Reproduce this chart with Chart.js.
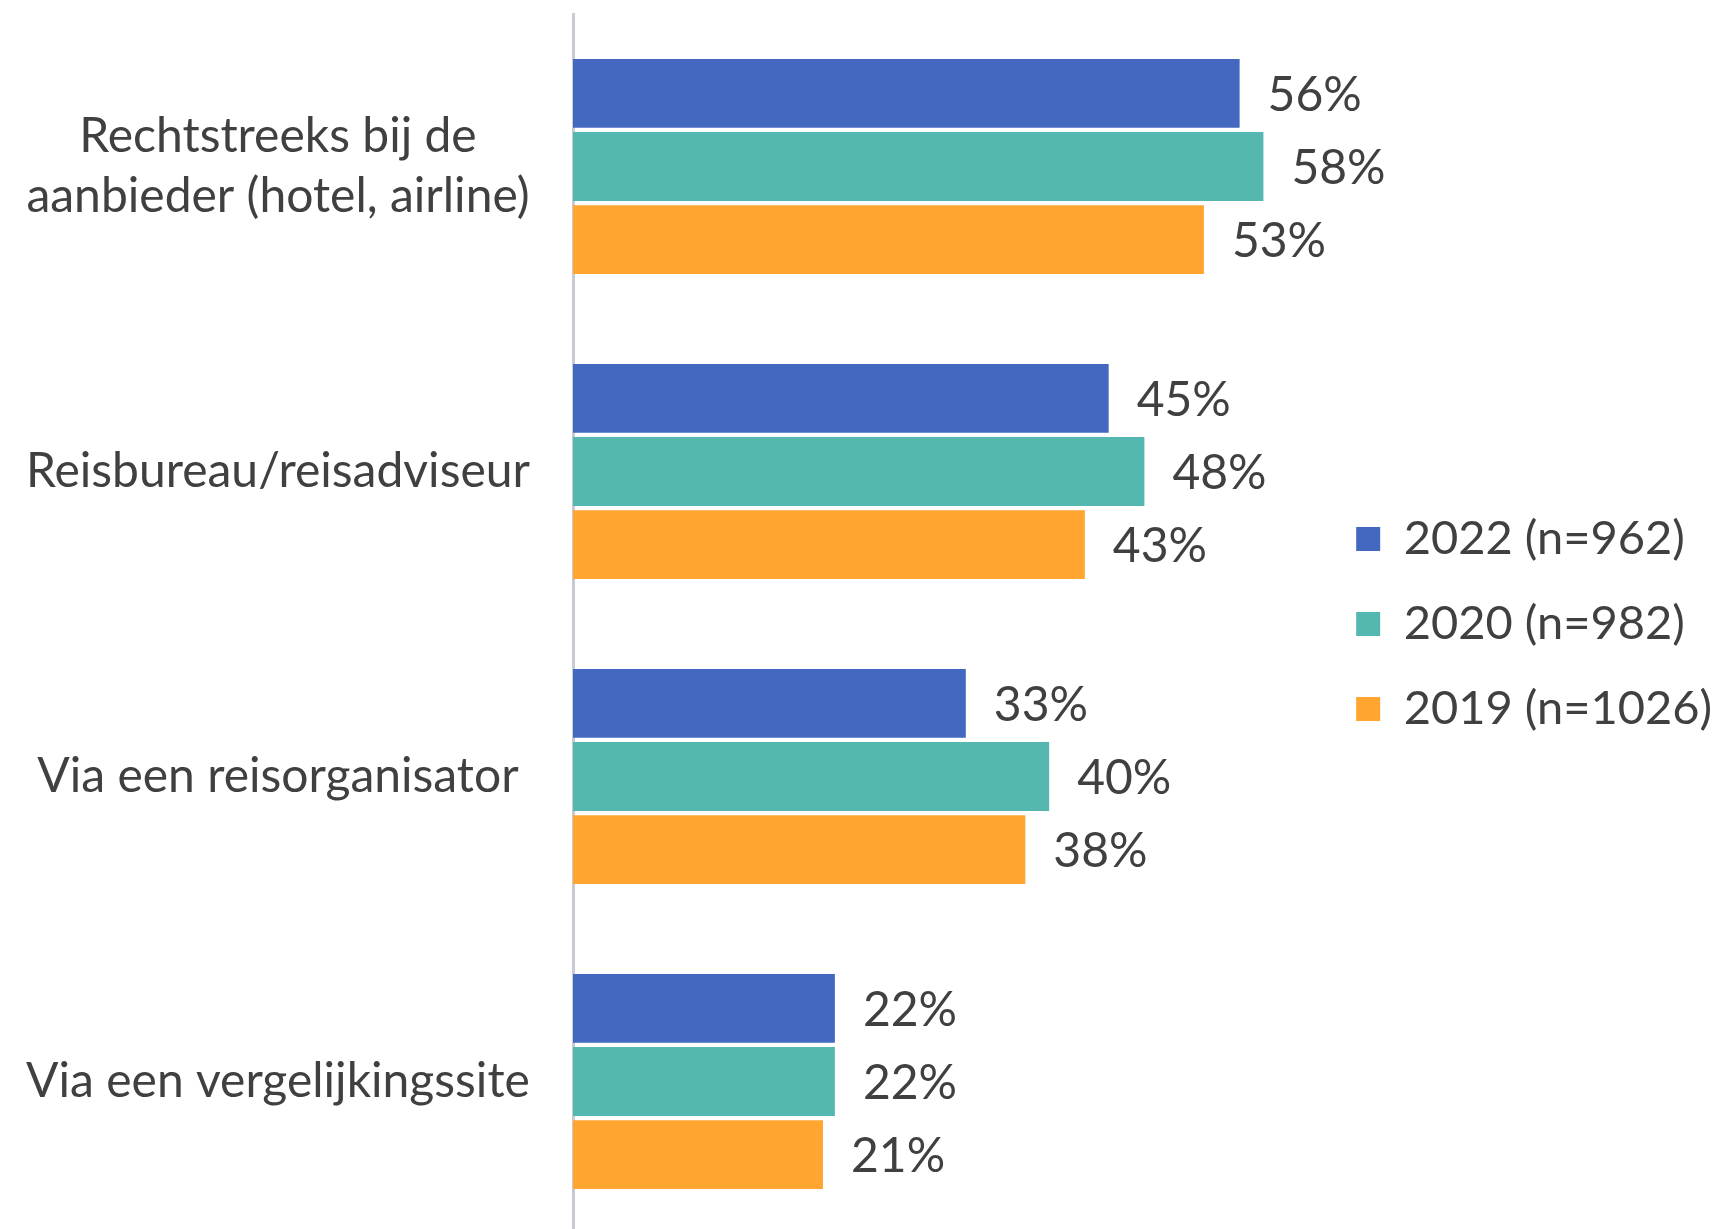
<!DOCTYPE html>
<html>
<head>
<meta charset="utf-8">
<script src="https://cdn.jsdelivr.net/npm/chart.js@4/dist/chart.umd.min.js"></script>
<style>
  html, body { margin: 0; padding: 0; background: #fff; overflow: hidden; }
  #wrap { width: 1722px; height: 1240px; position: relative; }
</style>
</head>
<body>
<div id="wrap"><canvas id="grafiek"></canvas></div>
<script>
const categorieen = [
    ['Rechtstreeks bij de', 'aanbieder (hotel, airline)'],
    'Reisbureau/reisadviseur',
    'Via een reisorganisator',
    'Via een vergelijkingssite'
];
const reeksNamen = ['2022 (n=962)', '2020 (n=982)', '2019 (n=1026)'];
const waarden2022 = [56, 45, 33, 22];
const waarden2020 = [58, 48, 40, 22];
const waarden2019 = [53, 43, 38, 21];
const kleuren = ['#4468C0', '#55B8B0', '#FFA530'];

const tekstKleur = '#404040';
const lettertype = 'Lato';

// waardes rechts naast de balken tekenen
const waardeLabels = {
    id: 'waardeLabels',
    afterDatasetsDraw(chart) {
        const ctx = chart.ctx;
        ctx.save();
        ctx.font = '48px ' + lettertype;
        ctx.fillStyle = tekstKleur;
        ctx.textAlign = 'left';
        ctx.textBaseline = 'middle';
        chart.data.datasets.forEach((ds, i) => {
            chart.getDatasetMeta(i).data.forEach((bar, j) => {
                ctx.fillText(ds.data[j] + '%', bar.x + 28, bar.y + 2);
            });
        });
        ctx.restore();
    }
};

const ctx = document.getElementById('grafiek').getContext('2d');
new Chart(ctx, {
    type: 'bar',
    data: {
        labels: categorieen,
        datasets: [
            { label: reeksNamen[0], data: waarden2022, backgroundColor: kleuren[0] },
            { label: reeksNamen[1], data: waarden2020, backgroundColor: kleuren[1] },
            { label: reeksNamen[2], data: waarden2019, backgroundColor: kleuren[2] }
        ]
    },
    options: {
        indexAxis: 'y',
        responsive: true,
        maintainAspectRatio: false,
        animation: false,
        categoryPercentage: 0.72,
        barPercentage: 0.94,
        layout: { padding: { top: 14, bottom: 6, left: 0, right: 0 } },
        plugins: {
            tooltip: { enabled: false },
            legend: {
                position: 'right',
                labels: {
                    color: tekstKleur,
                    font: { family: lettertype, size: 47, lineHeight: 1.2 },
                    boxWidth: 24,
                    boxHeight: 24,
                    padding: 38
                }
            }
        },
        scales: {
            x: {
                display: false,
                min: 0,
                max: 62.6
            },
            y: {
                grid: { display: false, drawTicks: false },
                border: { display: true, color: '#C8CCD2', width: 3 },
                ticks: {
                    color: tekstKleur,
                    font: { family: lettertype, size: 48, lineHeight: 1.25 },
                    crossAlign: 'center',
                    padding: 43
                },
                afterFit(scale) {
                    scale.width = 573;
                    scale.paddingTop = 0;
                    scale.paddingBottom = 0;
                }
            }
        }
    },
    plugins: [waardeLabels]
});
</script>
</body>
</html>
